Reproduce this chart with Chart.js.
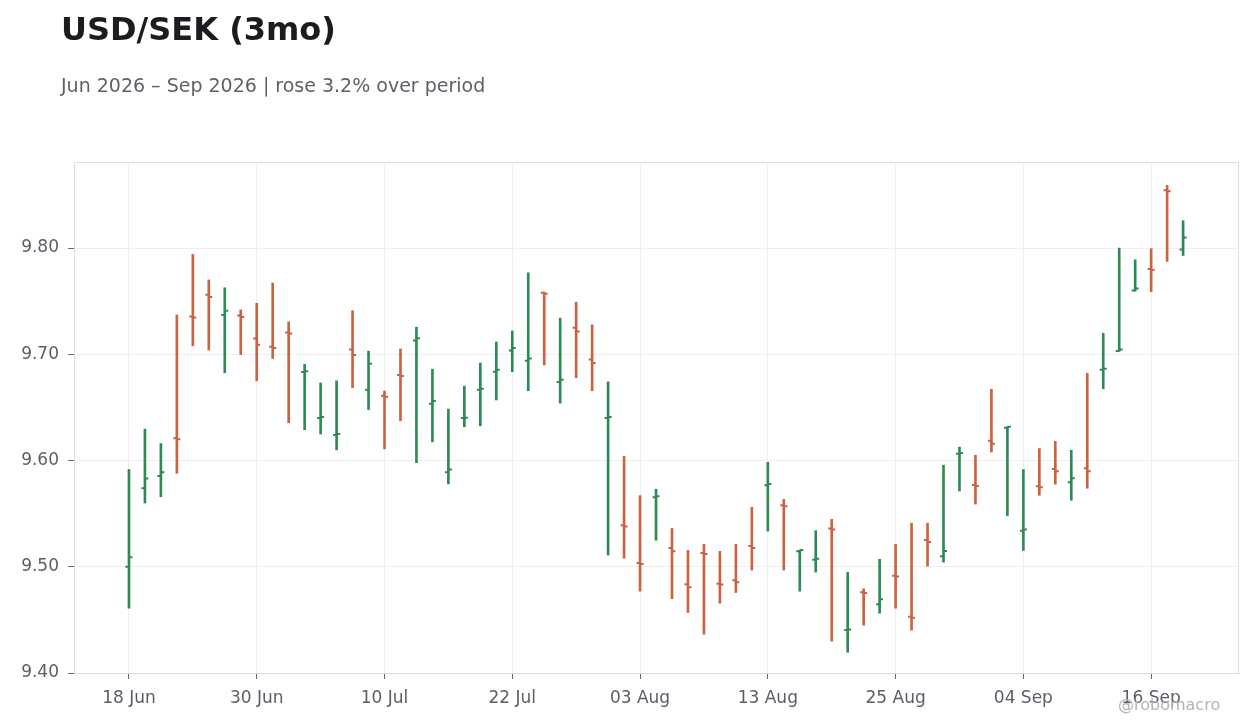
<!DOCTYPE html>
<html>
<head>
<meta charset="utf-8">
<script src="https://cdn.jsdelivr.net/npm/chart.js@4.4.1/dist/chart.umd.min.js"></script>
<style>
  html, body { margin: 0; padding: 0; background: #fff; }
  #wrap { position: relative; width: 1260px; height: 728px; overflow: hidden; }
  #chart { position: absolute; left: 0; top: 0; }
  .txt { position: absolute; font-family: "DejaVu Sans", sans-serif; line-height: 1; white-space: nowrap; }
  #title { left: 61px; top: 13px; font-size: 32px; font-weight: bold; color: #1b1b20; }
  #subtitle { left: 61px; top: 76px; font-size: 19px; color: #606169; }
  #mark { left: 1118px; top: 697px; font-size: 16px; color: #b4b4bb; }
</style>
</head>
<body>
<div id="wrap">
  <canvas id="chart" width="1260" height="728"></canvas>
  <div class="txt" id="title">USD/SEK (3mo)</div>
  <div class="txt" id="subtitle">Jun 2026 – Sep 2026 | rose 3.2% over period</div>
  <div class="txt" id="mark">@robomacro</div>
</div>
<script>
// trading days (business days only)
const dates = [
  "18 Jun","19 Jun","22 Jun","23 Jun","24 Jun","25 Jun","26 Jun","29 Jun","30 Jun",
  "01 Jul","02 Jul","03 Jul","06 Jul","07 Jul","08 Jul","09 Jul","10 Jul",
  "13 Jul","14 Jul","15 Jul","16 Jul","17 Jul","20 Jul","21 Jul","22 Jul",
  "23 Jul","24 Jul","27 Jul","28 Jul","29 Jul","30 Jul","31 Jul","03 Aug",
  "04 Aug","05 Aug","06 Aug","07 Aug","10 Aug","11 Aug","12 Aug","13 Aug",
  "14 Aug","17 Aug","18 Aug","19 Aug","20 Aug","21 Aug","24 Aug","25 Aug",
  "26 Aug","27 Aug","28 Aug","31 Aug","01 Sep","02 Sep","03 Sep","04 Sep",
  "07 Sep","08 Sep","09 Sep","10 Sep","11 Sep","14 Sep","15 Sep","16 Sep",
  "17 Sep","18 Sep"
];

const opens = [
  9.5000, 9.5740, 9.5855, 9.6210, 9.7355, 9.7560, 9.7370, 9.7365, 9.7148,
  9.7070, 9.7205, 9.6833, 9.6400, 9.6240, 9.7044, 9.6667, 9.6610,
  9.6805, 9.7130, 9.6535, 9.5890, 9.6400, 9.6667, 9.6836, 9.7035,
  9.6940, 9.7580, 9.6740, 9.7250, 9.6950, 9.6400, 9.5390, 9.5035,
  9.5654, 9.5176, 9.4836, 9.5129, 9.4840, 9.4874, 9.5195, 9.5767,
  9.5580, 9.5145, 9.5065, 9.5360, 9.4405, 9.4760, 9.4648, 9.4915,
  9.4530, 9.5252, 9.5100, 9.6063, 9.5770, 9.6186, 9.6308, 9.5340,
  9.5758, 9.5920, 9.5796, 9.5928, 9.6855, 9.7031, 9.7600, 9.7802,
  9.8544, 9.7987
];
const highs = [
  9.5915, 9.6296, 9.6160, 9.7370, 9.7940, 9.7700, 9.7626, 9.7418, 9.7480,
  9.7670, 9.7305, 9.6906, 9.6730, 9.6750, 9.7410, 9.7030, 9.6654,
  9.7050, 9.7255, 9.6860, 9.6484, 9.6700, 9.6918, 9.7116, 9.7220,
  9.7767, 9.7585, 9.7340, 9.7490, 9.7277, 9.6740, 9.6040, 9.5670,
  9.5730, 9.5360, 9.5154, 9.5210, 9.5145, 9.5210, 9.5560, 9.5984,
  9.5635, 9.5157, 9.5340, 9.5447, 9.4947, 9.4792, 9.5070, 9.5210,
  9.5410, 9.5410, 9.5956, 9.6126, 9.6050, 9.6670, 9.6318, 9.5915,
  9.6113, 9.6180, 9.6097, 9.6820, 9.7198, 9.8000, 9.7890, 9.7994,
  9.8590, 9.8258
];
const lows = [
  9.4610, 9.5600, 9.5660, 9.5880, 9.7080, 9.7040, 9.6827, 9.6997, 9.6750,
  9.6960, 9.6355, 9.6290, 9.6250, 9.6100, 9.6686, 9.6480, 9.6110,
  9.6374, 9.5980, 9.6176, 9.5780, 9.6318, 9.6327, 9.6570, 9.6836,
  9.6657, 9.6900, 9.6540, 9.6780, 9.6657, 9.5110, 9.5080, 9.4770,
  9.5250, 9.4700, 9.4570, 9.4365, 9.4657, 9.4758, 9.4969, 9.5336,
  9.4969, 9.4770, 9.4950, 9.4300, 9.4195, 9.4450, 9.4563, 9.4610,
  9.4403, 9.5006, 9.5044, 9.5714, 9.5590, 9.6080, 9.5480, 9.5154,
  9.5673, 9.5777, 9.5626, 9.5739, 9.6676, 9.7028, 9.7595, 9.7590,
  9.7874, 9.7930
];
const closes = [
  9.5090, 9.5830, 9.5890, 9.6200, 9.7346, 9.7540, 9.7410, 9.7350, 9.7090,
  9.7060, 9.7195, 9.6840, 9.6410, 9.6250, 9.6994, 9.6910, 9.6600,
  9.6795, 9.7150, 9.6560, 9.5915, 9.6403, 9.6676, 9.6855, 9.7060,
  9.6960, 9.7570, 9.6760, 9.7214, 9.6918, 9.6410, 9.5380, 9.5025,
  9.5664, 9.5145, 9.4808, 9.5120, 9.4832, 9.4855, 9.5176, 9.5780,
  9.5570, 9.5157, 9.5075, 9.5350, 9.4410, 9.4752, 9.4695, 9.4908,
  9.4520, 9.5233, 9.5148, 9.6072, 9.5760, 9.6157, 9.6318, 9.5350,
  9.5748, 9.5900, 9.5833, 9.5900, 9.6865, 9.7044, 9.7620, 9.7795,
  9.8535, 9.8100
];

const yTicks = [9.40, 9.50, 9.60, 9.70, 9.80];
const xTickIdx = [0, 8, 16, 24, 32, 40, 48, 56, 64];

const UP = '#2e8a55';
const DOWN = '#cb6341';
const colors = opens.map((o, i) => closes[i] >= o ? UP : DOWN);

// open / close ticks, placed with the chart scales
const ohlcTicks = {
  id: 'ohlcTicks',
  afterDatasetsDraw(chart) {
    const ctx = chart.ctx;
    const xs = chart.scales.x, ys = chart.scales.y;
    ctx.save();
    ctx.lineWidth = 2;
    opens.forEach((o, i) => {
      const xp = xs.getPixelForValue(i);
      const yo = ys.getPixelForValue(o);
      const yc = ys.getPixelForValue(closes[i]);
      ctx.strokeStyle = colors[i];
      ctx.beginPath();
      ctx.moveTo(xp - 3.5, yo);
      ctx.lineTo(xp, yo);
      ctx.moveTo(xp, yc);
      ctx.lineTo(xp + 3.5, yc);
      ctx.stroke();
    });
    ctx.restore();
  }
};

// light frame around the plot area
const frame = {
  id: 'frame',
  beforeDatasetsDraw(chart) {
    const { ctx, chartArea: a } = chart;
    ctx.save();
    ctx.strokeStyle = '#dedee2';
    ctx.lineWidth = 1;
    ctx.strokeRect(a.left + 0.5, a.top + 0.5, a.right - a.left - 1, a.bottom - a.top);
    ctx.restore();
  }
};

Chart.defaults.font.family = '"DejaVu Sans", sans-serif';
Chart.defaults.font.size = 17;
Chart.defaults.color = '#5b5e67';

new Chart(document.getElementById('chart'), {
  type: 'bar',
  data: {
    datasets: [{
      data: lows.map((l, i) => ({ x: i, y: [l, highs[i]] })),
      backgroundColor: colors,
      borderWidth: 0,
      barThickness: 2,
      grouped: false
    }]
  },
  options: {
    responsive: false,
    animation: false,
    layout: { padding: { top: 162, right: 21, left: 0, bottom: 0 } },
    plugins: {
      legend: { display: false },
      tooltip: { enabled: false }
    },
    scales: {
      x: {
        type: 'linear',
        offset: false,
        min: -3.44,
        max: 69.5,
        afterBuildTicks: (s) => { s.ticks = xTickIdx.map(v => ({ value: v })); },
        afterFit: (s) => { s.height = 55; },
        ticks: {
          autoSkip: false,
          maxRotation: 0,
          padding: 9,
          callback: (v) => dates[v]
        },
        grid: { offset: false, color: '#eeeef0', tickColor: '#666872', tickLength: 6 },
        border: { color: '#dedee2' }
      },
      y: {
        min: 9.4,
        max: 9.881,
        afterBuildTicks: (s) => { s.ticks = yTicks.map(v => ({ value: v })); },
        afterFit: (s) => { s.width = 74; },
        ticks: {
          padding: 9,
          callback: (v) => v.toFixed(2)
        },
        grid: { color: '#eeeef0', tickColor: '#666872', tickLength: 6 },
        border: { color: '#dedee2' }
      }
    }
  },
  plugins: [frame, ohlcTicks]
});
</script>
</body>
</html>
